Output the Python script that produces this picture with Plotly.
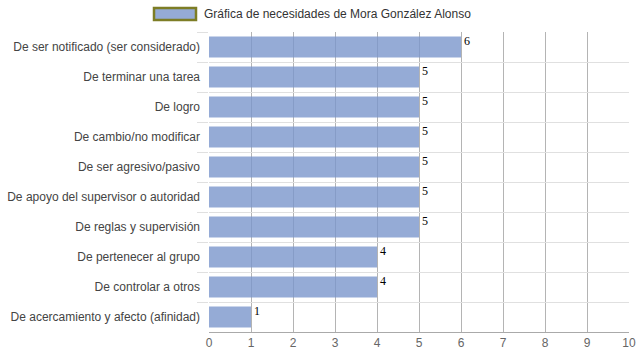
import plotly.graph_objects as go

categories = [
    "De ser notificado (ser considerado)",
    "De terminar una tarea",
    "De logro",
    "De cambio/no modificar",
    "De ser agresivo/pasivo",
    "De apoyo del supervisor o autoridad",
    "De reglas y supervisión",
    "De pertenecer al grupo",
    "De controlar a otros",
    "De acercamiento y afecto (afinidad)",
]
values = [6, 5, 5, 5, 5, 5, 5, 4, 4, 1]
series_name = "Gráfica de necesidades de Mora González Alonso"
x_ticks = list(range(0, 11))

W, H = 639, 360
ML, MR, MT, MB = 209, 10, 32, 28
PW, PH = W - ML - MR, H - MT - MB

def px_x(p):
    return (p - ML) / PW

def px_y(p):
    return (H - MB - p) / PH

fig = go.Figure()
fig.add_trace(go.Bar(
    x=values, y=categories, orientation="h",
    name=series_name,
    marker=dict(color="rgb(122,150,204)", opacity=0.8, line=dict(width=0)),
    showlegend=False,
    hoverinfo="x+y",
))

for c, v in zip(categories, values):
    fig.add_annotation(
        x=v, y=c, xref="x", yref="y", text=str(v), showarrow=False,
        xanchor="left", yanchor="middle", xshift=1, yshift=6,
        font=dict(family="Liberation Serif, Times New Roman, serif", size=12, color="#000"),
    )

# legend swatch + text
fig.add_shape(type="rect", xref="paper", yref="paper",
              x0=px_x(154), x1=px_x(196), y0=px_y(20), y1=px_y(8),
              line=dict(color="#7d7d25", width=2.5), fillcolor="#95abd6")
fig.add_annotation(x=px_x(202), y=px_y(14), xref="paper", yref="paper",
                   text=series_name, showarrow=False, xanchor="left", yanchor="middle",
                   font=dict(family="Liberation Sans, Arial, sans-serif", size=12, color="#333"))

fig.update_layout(
    width=W, height=H,
    margin=dict(l=ML, r=MR, t=MT, b=MB, pad=0, autoexpand=False),
    paper_bgcolor="white", plot_bgcolor="white",
    bargap=0.3,
    font=dict(family="Liberation Sans, Arial, sans-serif", size=12, color="#444"),
    xaxis=dict(
        range=[0, 10], tickvals=x_ticks, ticktext=[str(t) for t in x_ticks],
        showgrid=True, gridcolor="#b4b4b4", gridwidth=1,
        zeroline=False, showline=True, linecolor="#aaa", linewidth=1,
        ticks="", tickfont=dict(color="#666", size=12), fixedrange=True,
        automargin=False, ticklabeloverflow="allow",
    ),
    yaxis=dict(
        type="category", categoryorder="array", categoryarray=categories,
        autorange="reversed", tickson="boundaries",
        showgrid=True, gridcolor="#e0e0e0", gridwidth=1,
        ticks="outside", ticklen=11, tickcolor="#e0e0e0", tickwidth=1,
        ticklabelstandoff=8,
        showline=False, zeroline=False,
        tickfont=dict(color="#444", size=12), fixedrange=True,
        automargin=False,
    ),
)

fig.write_html(
    "out.html",
    config={"displayModeBar": False},
    post_script="document.documentElement.style.margin='0';document.body.style.margin='0';document.body.style.overflow='hidden';",
)
